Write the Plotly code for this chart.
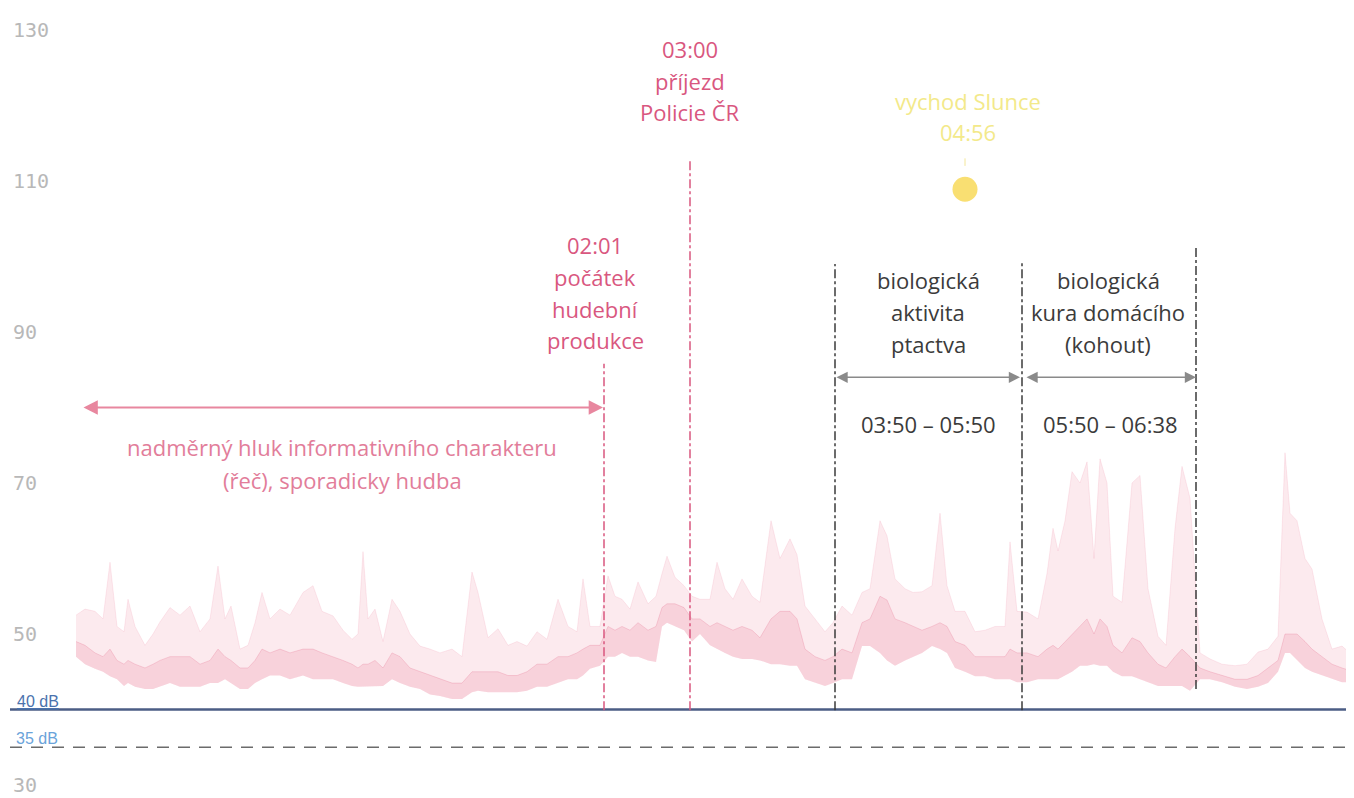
import plotly.graph_objects as go

# ---------------- data ----------------
# sample position along the (non-linear) time axis, arbitrary units
sample_pos = [76, 85, 95, 103, 110, 117, 124, 128, 135, 145, 153, 160, 170, 180, 190, 200, 210, 218, 225, 231,
              240, 248, 255, 262, 270, 280, 290, 303, 313, 322, 333, 343, 352, 358, 363, 368, 375, 383, 392, 400,
              410, 420, 430, 440, 452, 462, 472, 478, 488, 498, 508, 517, 527, 537, 547, 558, 568, 577, 583, 590,
              600, 608, 615, 622, 630, 638, 648, 656, 662, 667, 675, 684, 692, 700, 710, 717, 725, 733, 742, 752,
              760, 771, 780, 790, 797, 805, 815, 825, 833, 842, 852, 862, 870, 880, 887, 895, 905, 913, 922, 932,
              940, 947, 955, 965, 975, 985, 995, 1005, 1010, 1017, 1027, 1038, 1047, 1053, 1058, 1065, 1072, 1080,
              1087, 1094, 1100, 1107, 1113, 1122, 1132, 1140, 1148, 1158, 1166, 1175, 1182, 1190, 1200, 1210, 1222,
              1235, 1247, 1258, 1268, 1278, 1285, 1290, 1297, 1305, 1312, 1322, 1332, 1342, 1354]
peak_db = [52.5, 53.3, 53, 52, 59.5, 51, 50.3, 54.6, 51, 48.5, 50, 51.6, 53.5, 52.5, 53.7, 50.3, 52, 59, 52, 53.7,
           48, 48.5, 51.5, 55.5, 52, 53.3, 52.5, 55.5, 56.4, 53, 52.4, 50.5, 49.3, 50, 60.9, 52, 53.3, 49, 54.6, 53,
           50, 48.4, 48, 47.5, 48, 47, 58.2, 55.5, 49.5, 50.7, 48.5, 49, 48.4, 50.3, 49.3, 54.6, 51, 50.3, 57.3, 51,
           51, 57.7, 55, 54.6, 53.3, 56.9, 54, 55, 58, 60.3, 57.5, 56.4, 55, 54.6, 54.6, 59.5, 56, 54.6, 57.3, 55,
           54.2, 65, 60, 62.6, 60.5, 53.7, 52, 50.3, 51.5, 53.7, 52.5, 55.5, 56, 65, 63, 57.3, 56, 55.5, 55.6, 56.4,
           66, 56.4, 53, 53, 50.3, 50.5, 51, 51, 62.2, 53, 52.9, 52, 58, 64, 61, 65, 71.5, 70,
           72.8, 60, 73.2, 70, 55, 54.2, 70, 71, 56, 49.7, 48.5, 64, 72.2, 68, 47.5, 46.7, 46,
           45.8, 46, 47.6, 48, 49.7, 74, 66, 65, 60, 58.6, 52, 48, 48.4, 47]
median_db = [49, 48.5, 47.5, 47, 48, 46.5, 46, 46.5, 46, 45.5, 46, 46.5, 47, 47, 47, 46, 46.5, 48, 47, 46.5,
             45.5, 45.5, 46.5, 48, 47.5, 48, 47.5, 48, 48, 47.5, 47, 46.5, 46, 45.5, 46, 46, 46.5, 45.5, 47.5, 47,
             45.5, 45, 44.5, 44, 43.5, 43.5, 45, 45, 45, 45, 44.5, 44.5, 45, 46, 46, 47, 47, 47.5, 48, 48.5,
             48.5, 51, 50.5, 51, 50.5, 51.5, 50.5, 51, 53.5, 54, 54, 53.5, 52, 52, 51, 51.5, 51, 50.5, 51, 50.5,
             49.5, 52, 53, 53, 52, 48, 47, 46.5, 47, 48, 47.5, 51.5, 52, 55, 54.5, 52, 51.5, 51, 50.5, 51,
             51.5, 51, 49, 48.5, 47, 47, 47, 47, 48, 47.5, 47.5, 47, 48, 48.5, 48, 49, 50, 51,
             52, 50, 52, 51, 48.5, 47.5, 49.5, 49, 47.5, 46, 45.5, 47, 48, 47, 45.5, 45, 44.5,
             44, 44, 44.5, 45.5, 46.5, 50, 50, 50, 49, 48, 47, 46, 45.5, 45]
floor_db = [47, 46, 45.4, 45, 44.4, 44, 43.1, 43.5, 43, 42.7, 42.7, 43, 43.5, 43, 43, 43, 43.5, 43.5, 44, 43.5,
            42.7, 42.7, 43.5, 44, 44.5, 44.5, 44, 44.5, 44, 44, 44, 43.5, 43.1, 43, 43, 43.1, 43.1, 43.1, 44, 43.5,
            43, 42.7, 42, 41.8, 41.4, 41.4, 42.3, 42.5, 42.3, 42.3, 42.3, 42.3, 42.5, 43, 43, 43.5, 44, 44, 44.5, 45.4,
            45.8, 47, 47, 47.5, 47, 47, 46.5, 46.3, 51, 51.5, 51, 50.5, 49, 50, 48.5, 48, 47.5, 47, 46.7, 46.7,
            46.5, 46, 46, 45.8, 45.8, 44, 43.5, 43.1, 43.5, 44, 44, 48.4, 48.4, 47.5, 46.5, 45.8, 46.5, 47, 47.5, 48.4,
            48, 47.5, 45.5, 45, 44.4, 44.4, 44, 44, 44, 43.6, 43.6, 44, 44, 44, 44, 44.5, 45, 45.8,
            45.8, 46, 45.8, 45.8, 45, 44.4, 44.4, 44, 43.6, 43.1, 43.1, 43.1, 43.1, 42.5, 44, 44, 43.6,
            43, 42.7, 43, 43.5, 45, 47.5, 47.5, 46.5, 45.5, 45, 44.5, 44, 43.6, 43.6]

y_ticks = [30, 50, 70, 90, 110, 130]
limit_night = 40   # dB
limit_quiet = 35   # dB

# event markers (position on the time axis)
event_pos = {"02:01": 604, "03:00": 690, "03:50": 835, "05:50": 1022, "06:38": 1196}
sunrise_pos = 965
sunrise_db = 108.9

# ---------------- figure ----------------
# the page has an 8px body margin, ranges compensate for it
X_RANGE = [8, 1362]
Y_RANGE = [27.22, 132.91]
PINK = "#d9577f"
PINK_LIGHT = "#e27d9a"
DARK = "#3b3b3b"
FONT = "Open Sans"
FS = 22

fig = go.Figure()

fig.add_trace(go.Scatter(x=sample_pos, y=floor_db, mode="lines", line=dict(width=0),
                         hoverinfo="skip", showlegend=False))
fig.add_trace(go.Scatter(x=sample_pos, y=peak_db, mode="lines", line=dict(width=0.6, color="rgba(240,140,165,0.3)"),
                         fill="tonexty", fillcolor="rgba(242,150,172,0.2)", showlegend=False))
fig.add_trace(go.Scatter(x=sample_pos, y=floor_db, mode="lines", line=dict(width=0),
                         hoverinfo="skip", showlegend=False))
fig.add_trace(go.Scatter(x=sample_pos, y=median_db, mode="lines", line=dict(width=0.8, color="rgba(225,100,135,0.3)"),
                         fill="tonexty", fillcolor="rgba(236,115,145,0.2)", showlegend=False))

# sun
fig.add_trace(go.Scatter(x=[sunrise_pos], y=[sunrise_db], mode="markers",
                         marker=dict(size=25, color="#f9df72", line=dict(width=0)),
                         hoverinfo="skip", showlegend=False))

shapes = []
# limit lines
shapes.append(dict(type="line", xref="x", yref="y", x0=10, x1=1362, y0=limit_night, y1=limit_night,
                   line=dict(color="#4b5d85", width=2.5)))
shapes.append(dict(type="line", xref="x", yref="y", x0=10, x1=1362, y0=limit_quiet, y1=limit_quiet,
                   line=dict(color="#6b6b6b", width=1.3, dash="12px,9px")))
# event lines
ev_style = {"02:01": (PINK, 85.8, 39.9), "03:00": (PINK, 112.9, 39.9), "03:50": (DARK, 99.0, 39.9),
            "05:50": (DARK, 99.4, 39.9), "06:38": (DARK, 101.3, 42.7)}
for k, (col, top, bot) in ev_style.items():
    shapes.append(dict(type="line", xref="x", yref="y", x0=event_pos[k], x1=event_pos[k], y0=bot, y1=top,
                       line=dict(color=col, width=1.5, dash="dashdot")))
# small tick above sun
shapes.append(dict(type="line", xref="x", yref="y", x0=sunrise_pos, x1=sunrise_pos, y0=112.0, y1=113.0,
                   line=dict(color="#f3e69a", width=1)))

ann = []


def text_block(lines, x, ys, color, size=FS):
    for t, yy in zip(lines, ys):
        ann.append(dict(x=x, y=yy, xref="x", yref="y", text=t, showarrow=False,
                        font=dict(family=FONT, size=size, color=color), xanchor="center", yanchor="middle"))


text_block(["03:00", "příjezd", "Policie ČR"], 690, [127.5, 123.2, 119.1], PINK)
text_block(["02:01", "počátek", "hudební", "produkce"], 595, [101.5, 97.3, 93.0, 88.9], PINK)
text_block(["vychod Slunce", "04:56"], 968, [120.6, 116.5], "#f3e98a")
text_block(["biologická", "aktivita", "ptactva"], 928, [96.9, 92.6, 88.4], DARK)
text_block(["biologická", "kura domácího", "(kohout)"], 1108, [96.9, 92.6, 88.4], DARK)
text_block(["03:50 – 05:50"], 928, [77.8], DARK)
text_block(["05:50 – 06:38"], 1110, [77.8], DARK)
text_block(["nadměrný hluk informativního charakteru", "(řeč), sporadicky hudba"], 342, [74.8, 70.4], PINK_LIGHT)


# double arrows
def double_arrow(x0, x1, y, color, width, size):
    ann.append(dict(x=x1, y=y, ax=x0, ay=y, xref="x", yref="y", axref="x", ayref="y", text="",
                    showarrow=True, arrowhead=2, startarrowhead=2, arrowside="end+start",
                    arrowsize=size, startarrowsize=size, arrowwidth=width, arrowcolor=color))


double_arrow(82, 603, 80.0, "#e8879f", 2.2, 1.3)
double_arrow(835, 1020, 84.0, "#8a8a8a", 1.4, 1.6)
double_arrow(1025, 1196, 84.0, "#8a8a8a", 1.4, 1.6)

# limit labels
ann.append(dict(x=15, y=limit_night, xref="x", yref="y", text="<u>40 dB</u>", showarrow=False,
                font=dict(family="Liberation Sans", size=16, color="#4a72ad"), xanchor="left", yanchor="bottom",
                yshift=-2))
ann.append(dict(x=14, y=limit_quiet, xref="x", yref="y", text="35 dB", showarrow=False,
                font=dict(family="Liberation Sans", size=16, color="#6aa3da"), xanchor="left", yanchor="bottom",
                yshift=-2))

fig.update_layout(
    width=1354, height=798,
    margin=dict(l=0, r=0, t=0, b=0),
    paper_bgcolor="white", plot_bgcolor="white",
    shapes=shapes, annotations=ann, showlegend=False,
    xaxis=dict(range=X_RANGE, visible=False, fixedrange=True),
    yaxis=dict(range=Y_RANGE, tickvals=y_ticks, ticktext=[str(v) for v in y_ticks],
               ticklabelposition="inside", ticklabelstandoff=2,
               showgrid=False, zeroline=False, showline=False, ticks="",
               tickfont=dict(family="DejaVu Sans Mono", size=20, color="#b8b8b8")),
)

fig.write_html("out.html")
